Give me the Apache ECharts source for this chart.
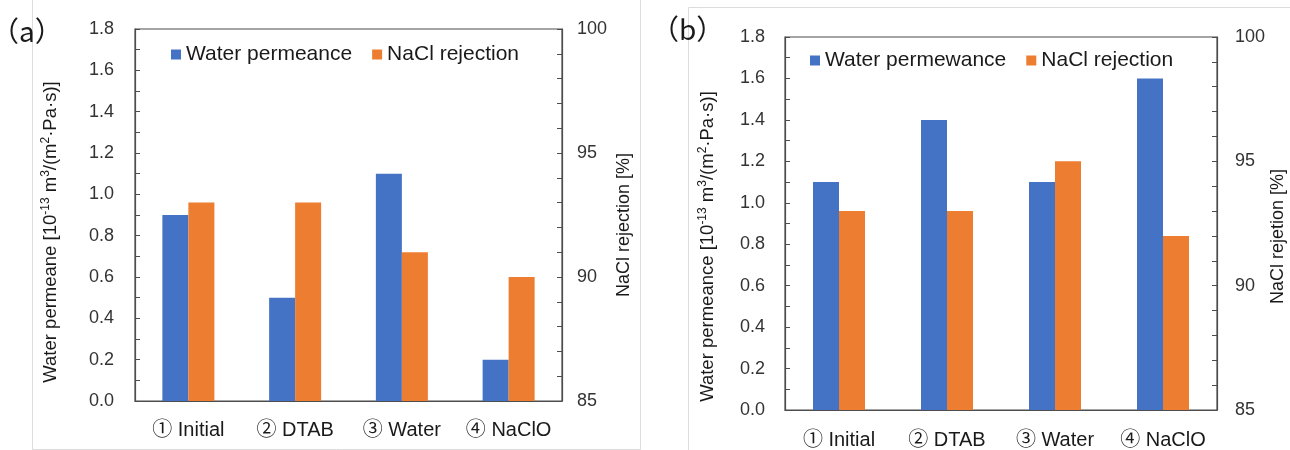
<!DOCTYPE html>
<html>
<head>
<meta charset="utf-8">
<script src="https://cdn.jsdelivr.net/npm/echarts@6/dist/echarts.min.js"></script>
<style>
html,body{margin:0;padding:0;background:#fff;}
#c{width:1290px;height:450px;}
</style>
</head>
<body>
<div id="c"></div>
<script>
const categories = ['① Initial', '② DTAB', '③ Water', '④ NaClO'];
const permeanceA = [0.9, 0.5, 1.1, 0.2];
const rejectionA = [93, 93, 91, 90];
const permeanceB = [1.1, 1.4, 1.1, 1.6];
const rejectionB = [93, 93, 95, 92];
const leftTicks = { min: 0, max: 1.8, interval: 0.2 };
const rightTicks = { min: 85, max: 100, interval: 5 };
const legendA = ['Water permeance', 'NaCl rejection'];
const legendB = ['Water permewance', 'NaCl rejection'];
const leftNameA = 'Water permeane [10{sup|-13} m{sup|3}/(m{sup|2}·Pa·s)]';
const leftNameB = 'Water permeance [10{sup|-13} m{sup|3}/(m{sup|2}·Pa·s)]';
const rightNameA = 'NaCl rejection [%]';
const rightNameB = 'NaCl rejetion [%]';

const FONT = '"Liberation Sans", Arial, "Noto Sans CJK JP", sans-serif';
const BLUE = '#4472C4', ORANGE = '#ED7D31';
const AXIS = '#4d4d4d', TXT = '#333333', DARK = '#1a1a1a', FAINT = '#dcdcdc';

const chart = echarts.init(document.getElementById('c'), null, {renderer: 'canvas'});

function leftAxis(gridIndex, name, pad, gap, margin) {
  return {
    type: 'value', gridIndex, position: 'left',
    min: leftTicks.min, max: leftTicks.max, interval: leftTicks.interval,
    name, nameLocation: 'middle', nameRotate: 90, nameGap: gap,
    nameTextStyle: {fontSize: 18.5, color: DARK, fontFamily: FONT, lineHeight: 21,
      padding: [0, pad, 0, 0],
      rich: {sup: {fontSize: 12, verticalAlign: 'top', color: DARK, fontFamily: FONT, lineHeight: 21}}},
    axisLine: {show: true, lineStyle: {color: AXIS, width: 1.2}},
    axisTick: {show: true, inside: true, length: 5, lineStyle: {color: AXIS}},
    minorTick: {show: true, splitNumber: 2, length: 5, lineStyle: {color: AXIS}},
    splitLine: {show: false},
    axisLabel: {fontSize: 18, color: TXT, fontFamily: FONT, margin,
      formatter: v => v.toFixed(1)}
  };
}
function rightAxis(gridIndex, name, pad, gap, margin) {
  return {
    type: 'value', gridIndex, position: 'right',
    min: rightTicks.min, max: rightTicks.max, interval: rightTicks.interval,
    name, nameLocation: 'middle', nameRotate: 90, nameGap: gap,
    nameTextStyle: {fontSize: 18, color: DARK, fontFamily: FONT, padding: [0, pad, 0, 0]},
    axisLine: {show: true, lineStyle: {color: AXIS, width: 1.2}},
    axisTick: {show: true, inside: true, length: 5, lineStyle: {color: AXIS}},
    minorTick: {show: true, splitNumber: 5, length: 5, lineStyle: {color: AXIS}},
    splitLine: {show: false},
    axisLabel: {fontSize: 18, color: TXT, fontFamily: FONT, margin,
      formatter: v => String(Math.round(v))}
  };
}
function catAxis(gridIndex, margin) {
  return {
    type: 'category', gridIndex, data: categories,
    axisLine: {show: true, lineStyle: {color: AXIS, width: 1.2}},
    axisTick: {show: false},
    axisLabel: {fontSize: 20, color: DARK, fontFamily: FONT, margin, interval: 0}
  };
}
function bar(name, data, x, y) {
  return {
    type: 'bar', name, data, xAxisIndex: x, yAxisIndex: y,
    barWidth: 26, barGap: '0%',
    itemStyle: {color: y % 2 === 0 ? BLUE : ORANGE},
    emphasis: {disabled: true}
  };
}
function legend(names, left, top) {
  return {
    show: true, left, top, padding: 0, itemGap: 20, itemWidth: 10, itemHeight: 10,
    icon: 'rect', data: names, selectedMode: false,
    textStyle: {fontSize: 21, color: DARK, fontFamily: FONT}
  };
}
function line(x1, y1, x2, y2) {
  return {type: 'line', shape: {x1, y1, x2, y2}, style: {stroke: FAINT, lineWidth: 1}, silent: true};
}

const option = {
  animation: false,
  backgroundColor: '#ffffff',
  grid: [
    {left: 135, top: 29, right: 1290 - 562, bottom: 450 - 401, show: true, borderColor: AXIS, borderWidth: 1.2, backgroundColor: 'transparent'},
    {left: 785, top: 37, right: 1290 - 1217, bottom: 450 - 410, show: true, borderColor: AXIS, borderWidth: 1.2, backgroundColor: 'transparent'}
  ],
  xAxis: [catAxis(0, 19), catAxis(1, 20)],
  yAxis: [
    leftAxis(0, leftNameA, 34, 74, 21),
    rightAxis(0, rightNameA, 20, 53, 15),
    leftAxis(1, leftNameB, 46, 67, 20),
    rightAxis(1, rightNameB, 26, 44, 18)
  ],
  legend: [
    legend(legendA, 171, 44),
    legend([legendB[0], legendB[1] + ' '], 810, 50)
  ],
  series: [
    bar(legendA[0], permeanceA, 0, 0),
    bar(legendA[1], rejectionA, 0, 1),
    bar(legendB[0], permeanceB, 1, 2),
    bar(legendB[1] + ' ', rejectionB, 1, 3)
  ],
  graphic: [
    line(32.5, 0, 32.5, 449.5),
    line(32.5, 449.5, 640.5, 449.5),
    line(640.5, 0, 640.5, 449.5),
    line(688.5, 7.5, 688.5, 450),
    line(688.5, 7.5, 1290, 7.5),
    {type: 'text', left: -9, top: 17, silent: true,
      style: {text: '（a）', font: '28px "Noto Sans CJK JP", sans-serif', fill: '#1a1a1a'}},
    {type: 'text', left: 651, top: 15, silent: true,
      style: {text: '（b）', font: '28px "Noto Sans CJK JP", sans-serif', fill: '#1a1a1a'}}
  ]
};
chart.setOption(option);
</script>
</body>
</html>
